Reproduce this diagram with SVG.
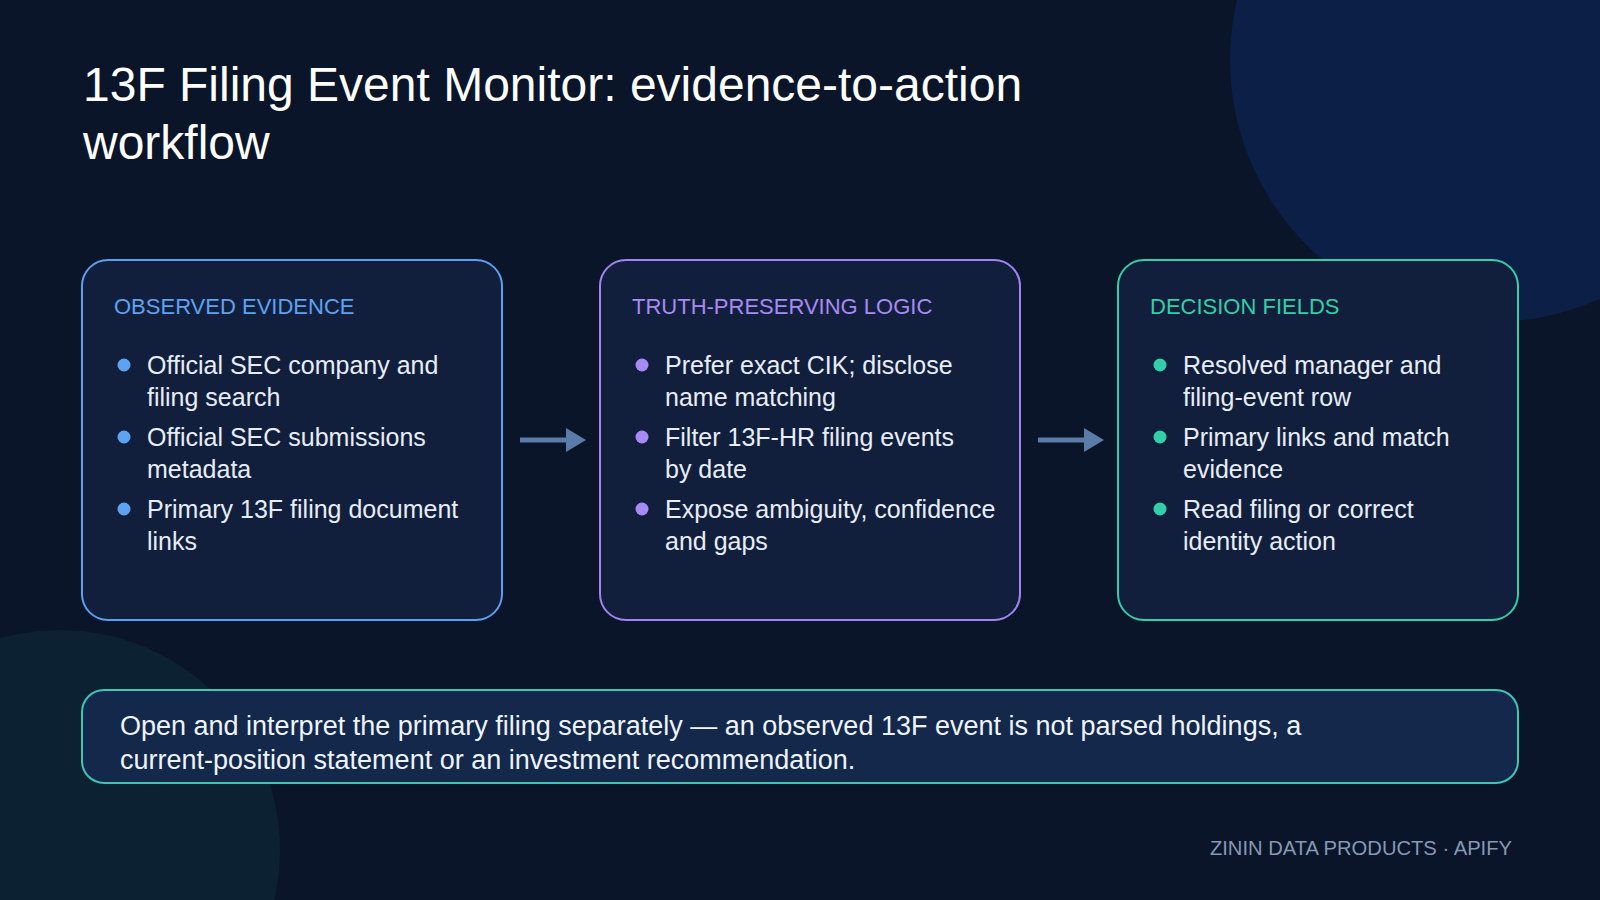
<svg xmlns="http://www.w3.org/2000/svg" width="1600" height="900" viewBox="0 0 1600 900">
  <defs>
    <style>
      .title { font-family: "Liberation Sans", Arial, Helvetica, sans-serif; font-size: 48px; fill: #ffffff; }
      .head { font-family: "Liberation Sans", Arial, Helvetica, sans-serif; font-size: 22px; }
      .item { font-family: "Liberation Sans", Arial, Helvetica, sans-serif; font-size: 25px; fill: #e6edf8; }
      .note { font-family: "Liberation Sans", Arial, Helvetica, sans-serif; font-size: 27px; fill: #eef3fb; }
      .foot { font-family: "Liberation Sans", Arial, Helvetica, sans-serif; font-size: 20.2px; fill: #8798b4; }
      .card { fill: #121f3c; stroke-width: 2; }
      .blue { stroke: #5c9ef0; }
      .violet { stroke: #a283f2; }
      .green { stroke: #33cfa6; }
      .conn line { stroke: #5b7ba8; stroke-width: 5; }
      .conn polygon { fill: #5b7ba8; }
    </style>
  </defs>
  <rect x="0" y="0" width="1600" height="900" fill="#0a1529"/>
  <circle cx="1492" cy="60" r="262" fill="#0c1f46"/>
  <circle cx="60" cy="850" r="220" fill="#0c2132"/>

  <text class="title" x="83" y="101">13F Filing Event Monitor: evidence-to-action</text>
  <text class="title" x="83" y="159">workflow</text>

  <g id="observed-evidence">
    <rect class="card blue" x="82" y="260" width="420" height="360" rx="26"/>
    <text class="head" x="114" y="314" fill="#5ea2f2">OBSERVED EVIDENCE</text>
    <g fill="#5ea2f2">
      <circle cx="124" cy="365" r="6.5"/>
      <circle cx="124" cy="437" r="6.5"/>
      <circle cx="124" cy="509" r="6.5"/>
    </g>
    <text class="item" x="147" y="374">Official SEC company and</text>
    <text class="item" x="147" y="406">filing search</text>
    <text class="item" x="147" y="446">Official SEC submissions</text>
    <text class="item" x="147" y="478">metadata</text>
    <text class="item" x="147" y="518">Primary 13F filing document</text>
    <text class="item" x="147" y="550">links</text>
  </g>

  <g id="truth-preserving-logic">
    <rect class="card violet" x="600" y="260" width="420" height="360" rx="26"/>
    <text class="head" x="632" y="314" fill="#a88af5">TRUTH-PRESERVING LOGIC</text>
    <g fill="#a88af5">
      <circle cx="642" cy="365" r="6.5"/>
      <circle cx="642" cy="437" r="6.5"/>
      <circle cx="642" cy="509" r="6.5"/>
    </g>
    <text class="item" x="665" y="374">Prefer exact CIK; disclose</text>
    <text class="item" x="665" y="406">name matching</text>
    <text class="item" x="665" y="446">Filter 13F-HR filing events</text>
    <text class="item" x="665" y="478">by date</text>
    <text class="item" x="665" y="518">Expose ambiguity, confidence</text>
    <text class="item" x="665" y="550">and gaps</text>
  </g>

  <g id="decision-fields">
    <rect class="card green" x="1118" y="260" width="400" height="360" rx="26"/>
    <text class="head" x="1150" y="314" fill="#33cfa6">DECISION FIELDS</text>
    <g fill="#33cfa6">
      <circle cx="1160" cy="365" r="6.5"/>
      <circle cx="1160" cy="437" r="6.5"/>
      <circle cx="1160" cy="509" r="6.5"/>
    </g>
    <text class="item" x="1183" y="374">Resolved manager and</text>
    <text class="item" x="1183" y="406">filing-event row</text>
    <text class="item" x="1183" y="446">Primary links and match</text>
    <text class="item" x="1183" y="478">evidence</text>
    <text class="item" x="1183" y="518">Read filing or correct</text>
    <text class="item" x="1183" y="550">identity action</text>
  </g>

  <g id="connectors" class="conn">
    <line x1="520" y1="440" x2="570" y2="440"/>
    <polygon points="566,428 586,440 566,452"/>
    <line x1="1038" y1="440" x2="1088" y2="440"/>
    <polygon points="1084,428 1104,440 1084,452"/>
  </g>

  <g id="note">
    <rect x="82" y="690" width="1436" height="93" rx="22" fill="#13284a" stroke="#3cc7b2" stroke-width="2"/>
    <text class="note" x="120" y="735">Open and interpret the primary filing separately — an observed 13F event is not parsed holdings, a</text>
    <text class="note" x="120" y="769">current-position statement or an investment recommendation.</text>
  </g>

  <text class="foot" x="1512" y="855" text-anchor="end">ZININ DATA PRODUCTS · APIFY</text>
</svg>
